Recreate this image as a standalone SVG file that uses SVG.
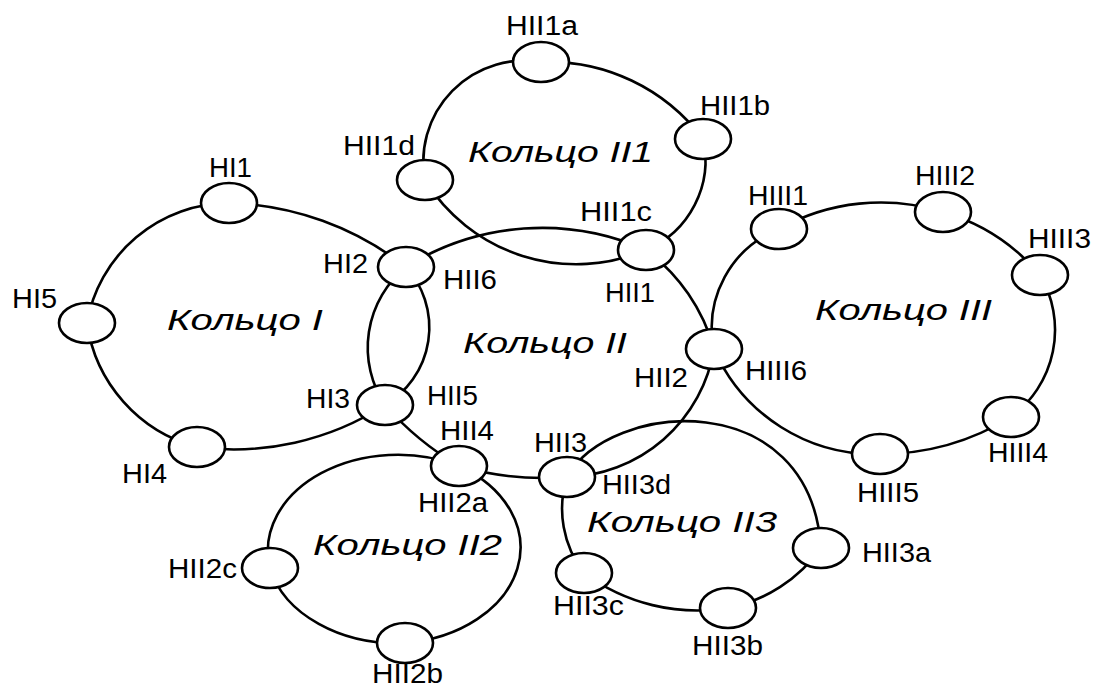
<svg xmlns="http://www.w3.org/2000/svg" width="1095" height="690" viewBox="0 0 1095 690">
<style>
.bg{fill:#fff}
.c{fill:none;stroke:#000;stroke-width:2.6}
.n ellipse{fill:#fff;stroke:#000;stroke-width:2.6}
text{font-family:"Liberation Sans",Arial,sans-serif;fill:#000}
.l{font-size:27px}
.r{font-size:30px;font-style:italic}
</style>
<rect class="bg" x="0" y="0" width="1095" height="690"/>
<g id="connectors">
  <!-- Ring I -->
  <path class="c" d="M229,203 A300,300 0 0 1 406,267"/>
  <path class="c" d="M406,267 A90,90 0 0 1 385,405"/>
  <path class="c" d="M385,405 A280,280 0 0 1 197,447"/>
  <path class="c" d="M197,447 A150,150 0 0 1 87,323"/>
  <path class="c" d="M87,323 A145,145 0 0 1 229,203"/>
  <!-- Ring II -->
  <path class="c" d="M646,250 A185,185 0 0 1 714,349"/>
  <path class="c" d="M714,349 A153,153 0 0 1 567,477"/>
  <path class="c" d="M567,477 A300,300 0 0 1 459,466"/>
  <path class="c" d="M459,466 A300,300 0 0 1 385,405"/>
  <path class="c" d="M385,405 A104,104 0 0 1 406,267"/>
  <path class="c" d="M406,267 A256,256 0 0 1 646,250"/>
  <!-- Ring II1 -->
  <path class="c" d="M541,62 A193,193 0 0 1 703,139"/>
  <path class="c" d="M703,139 A97,97 0 0 1 646,250"/>
  <path class="c" d="M646,250 A178,178 0 0 1 425,180"/>
  <path class="c" d="M425,180 A101,101 0 0 1 541,62"/>
  <!-- Ring III -->
  <path class="c" d="M779,229 A209,209 0 0 1 943,212"/>
  <path class="c" d="M943,212 A200,200 0 0 1 1040,275"/>
  <path class="c" d="M1040,275 A108,108 0 0 1 1011,417"/>
  <path class="c" d="M1011,417 A250,250 0 0 1 880,454"/>
  <path class="c" d="M880,454 A175,175 0 0 1 714,349"/>
  <path class="c" d="M714,349 A106,106 0 0 1 779,229"/>
  <!-- Ring II2 -->
  <path class="c" d="M459,466 A130,96 0 0 1 405,643"/>
  <path class="c" d="M405,643 A130,96 0 0 1 270,568"/>
  <path class="c" d="M270,568 A130,96 0 0 1 459,466"/>
  <!-- Ring II3 -->
  <path class="c" d="M567,477 C610,400 810,385 821,548"/>
  <path class="c" d="M821,548 A150,150 0 0 1 728,608"/>
  <path class="c" d="M728,608 A190,190 0 0 1 584,573"/>
  <path class="c" d="M584,573 A105,105 0 0 1 567,477"/>
</g>
<g id="ring-labels">
  <text class="r" x="468" y="162" textLength="185" lengthAdjust="spacingAndGlyphs">Кольцо II1</text>
  <text class="r" x="167" y="330" textLength="156" lengthAdjust="spacingAndGlyphs">Кольцо I</text>
  <text class="r" x="463" y="353" textLength="164" lengthAdjust="spacingAndGlyphs">Кольцо II</text>
  <text class="r" x="815" y="320" textLength="177" lengthAdjust="spacingAndGlyphs">Кольцо III</text>
  <text class="r" x="313" y="555" textLength="189" lengthAdjust="spacingAndGlyphs">Кольцо II2</text>
  <text class="r" x="587" y="532" textLength="190" lengthAdjust="spacingAndGlyphs">Кольцо II3</text>
</g>
<g id="node-HI1" class="n"><ellipse cx="229" cy="203" rx="28" ry="20"/><text class="l" x="209" y="177" textLength="43" lengthAdjust="spacingAndGlyphs">HI1</text></g>
<g id="node-HI5" class="n"><ellipse cx="87" cy="323" rx="28" ry="20"/><text class="l" x="12" y="308" textLength="45" lengthAdjust="spacingAndGlyphs">HI5</text></g>
<g id="node-HI4" class="n"><ellipse cx="197" cy="447" rx="28" ry="20"/><text class="l" x="122" y="483" textLength="45" lengthAdjust="spacingAndGlyphs">HI4</text></g>
<g id="node-HI2-HII6" class="n"><ellipse cx="406" cy="267" rx="28" ry="20"/><text class="l" x="323" y="273" textLength="45" lengthAdjust="spacingAndGlyphs">HI2</text><text class="l" x="443" y="289" textLength="54" lengthAdjust="spacingAndGlyphs">HII6</text></g>
<g id="node-HI3-HII5" class="n"><ellipse cx="385" cy="405" rx="28" ry="20"/><text class="l" x="306" y="408" textLength="44" lengthAdjust="spacingAndGlyphs">HI3</text><text class="l" x="427" y="405" textLength="51" lengthAdjust="spacingAndGlyphs">HII5</text></g>
<g id="node-HII1a" class="n"><ellipse cx="541" cy="62" rx="28" ry="20"/><text class="l" x="506" y="35" textLength="72" lengthAdjust="spacingAndGlyphs">HII1a</text></g>
<g id="node-HII1b" class="n"><ellipse cx="703" cy="139" rx="28" ry="20"/><text class="l" x="700" y="115" textLength="70" lengthAdjust="spacingAndGlyphs">HII1b</text></g>
<g id="node-HII1d" class="n"><ellipse cx="425" cy="180" rx="28" ry="20"/><text class="l" x="343" y="155" textLength="72" lengthAdjust="spacingAndGlyphs">HII1d</text></g>
<g id="node-HII1c-HII1" class="n"><ellipse cx="646" cy="250" rx="28" ry="20"/><text class="l" x="580" y="221" textLength="72" lengthAdjust="spacingAndGlyphs">HII1c</text><text class="l" x="605" y="302" textLength="50" lengthAdjust="spacingAndGlyphs">HII1</text></g>
<g id="node-HII2-HIII6" class="n"><ellipse cx="714" cy="349" rx="28" ry="20"/><text class="l" x="634" y="387" textLength="54" lengthAdjust="spacingAndGlyphs">HII2</text><text class="l" x="745" y="380" textLength="62" lengthAdjust="spacingAndGlyphs">HIII6</text></g>
<g id="node-HII4-HII2a" class="n"><ellipse cx="459" cy="466" rx="28" ry="20"/><text class="l" x="440" y="440" textLength="54" lengthAdjust="spacingAndGlyphs">HII4</text><text class="l" x="418" y="512" textLength="70" lengthAdjust="spacingAndGlyphs">HII2a</text></g>
<g id="node-HII3-HII3d" class="n"><ellipse cx="567" cy="477" rx="28" ry="20"/><text class="l" x="534" y="452" textLength="53" lengthAdjust="spacingAndGlyphs">HII3</text><text class="l" x="602" y="494" textLength="69" lengthAdjust="spacingAndGlyphs">HII3d</text></g>
<g id="node-HIII1" class="n"><ellipse cx="779" cy="229" rx="28" ry="20"/><text class="l" x="748" y="205" textLength="60" lengthAdjust="spacingAndGlyphs">HIII1</text></g>
<g id="node-HIII2" class="n"><ellipse cx="943" cy="212" rx="28" ry="20"/><text class="l" x="915" y="185" textLength="60" lengthAdjust="spacingAndGlyphs">HIII2</text></g>
<g id="node-HIII3" class="n"><ellipse cx="1040" cy="275" rx="28" ry="20"/><text class="l" x="1028" y="248" textLength="63" lengthAdjust="spacingAndGlyphs">HIII3</text></g>
<g id="node-HIII4" class="n"><ellipse cx="1011" cy="417" rx="28" ry="20"/><text class="l" x="988" y="462" textLength="60" lengthAdjust="spacingAndGlyphs">HIII4</text></g>
<g id="node-HIII5" class="n"><ellipse cx="880" cy="454" rx="28" ry="20"/><text class="l" x="857" y="502" textLength="62" lengthAdjust="spacingAndGlyphs">HIII5</text></g>
<g id="node-HII2c" class="n"><ellipse cx="270" cy="568" rx="28" ry="20"/><text class="l" x="168" y="578" textLength="69" lengthAdjust="spacingAndGlyphs">HII2c</text></g>
<g id="node-HII2b" class="n"><ellipse cx="405" cy="643" rx="28" ry="20"/><text class="l" x="372" y="683" textLength="71" lengthAdjust="spacingAndGlyphs">HII2b</text></g>
<g id="node-HII3a" class="n"><ellipse cx="821" cy="548" rx="28" ry="20"/><text class="l" x="862" y="562" textLength="69" lengthAdjust="spacingAndGlyphs">HII3a</text></g>
<g id="node-HII3b" class="n"><ellipse cx="728" cy="608" rx="28" ry="20"/><text class="l" x="692" y="655" textLength="71" lengthAdjust="spacingAndGlyphs">HII3b</text></g>
<g id="node-HII3c" class="n"><ellipse cx="584" cy="573" rx="28" ry="20"/><text class="l" x="553" y="615" textLength="71" lengthAdjust="spacingAndGlyphs">HII3c</text></g>
</svg>
